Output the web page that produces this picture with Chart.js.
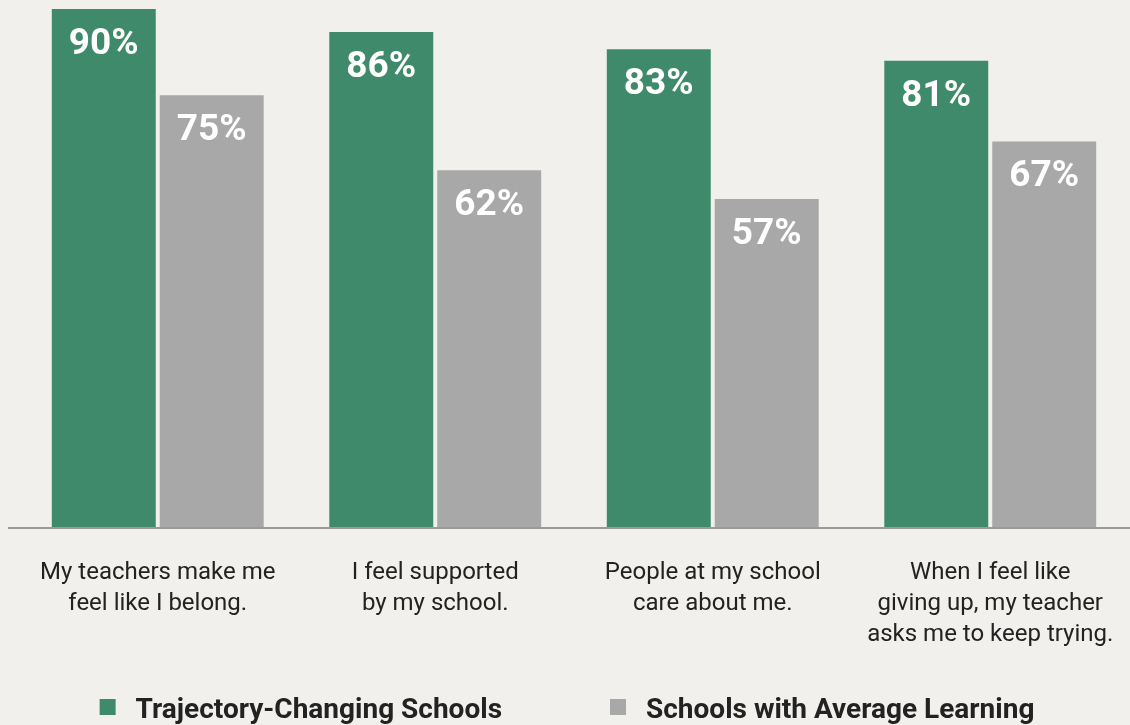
<!DOCTYPE html>
<html>
<head>
<meta charset="utf-8">
<script src="https://cdn.jsdelivr.net/npm/chart.js@4/dist/chart.umd.min.js"></script>
<style>
  html, body { margin:0; padding:0; background:#f1f0ec; overflow:hidden; }
  #wrap { position:relative; width:1130px; height:725px; }
</style>
</head>
<body>
<div id="wrap"><canvas id="chart"></canvas></div>
<script>
// datos
const categorias = [
  ['My teachers make me', 'feel like I belong.'],
  ['I feel supported', 'by my school.'],
  ['People at my school', 'care about me.'],
  ['When I feel like', 'giving up, my teacher', 'asks me to keep trying.']
];
const serieNombres = ['Trajectory-Changing Schools', 'Schools with Average Learning'];
const trayectoria = [90, 86, 83, 81];
const promedio = [75, 62, 57, 67];
const colores = ['#3f8a6b', '#a8a8a8'];

// etiquetas blancas dentro de cada barra, línea base y leyenda
const etiquetasPlugin = {
  id: 'etiquetas',
  afterDatasetsDraw(chart) {
    const {ctx} = chart;
    ctx.save();
    ctx.font = 'bold 37px Roboto';
    ctx.fillStyle = '#ffffff';
    ctx.textAlign = 'center';
    ctx.textBaseline = 'alphabetic';
    chart.data.datasets.forEach((ds, d) => {
      chart.getDatasetMeta(d).data.forEach((bar, i) => {
        ctx.fillText(ds.data[i] + '%', bar.x, bar.y + 45);
      });
    });
    const y0 = chart.scales.y.getPixelForValue(0);
    ctx.strokeStyle = '#9a9a98';
    ctx.lineWidth = 2;
    ctx.beginPath(); ctx.moveTo(8, y0 + 1); ctx.lineTo(chart.width, y0 + 1); ctx.stroke();
    ctx.restore();
  },
  afterDraw(chart) {
    const {ctx} = chart;
    ctx.save();
    ctx.font = 'bold 28px Roboto';
    ctx.textBaseline = 'alphabetic';
    ctx.textAlign = 'left';
    const items = chart.data.datasets.map(ds => ({
      text: ds.label, color: ds.backgroundColor, w: 36 + ctx.measureText(ds.label).width
    }));
    const gap = 108;
    const total = items.reduce((s, it) => s + it.w, 0) + gap * (items.length - 1);
    let x = (chart.width - total) / 2 + 2;
    items.forEach(it => {
      ctx.fillStyle = it.color;
      ctx.fillRect(x, 699, 16, 16);
      ctx.fillStyle = '#222';
      ctx.fillText(it.text, x + 36, 718);
      x += it.w + gap;
    });
    ctx.restore();
  }
};

new Chart(document.getElementById('chart'), {
  type: 'bar',
  data: {
    labels: categorias,
    datasets: [
      { label: serieNombres[0], data: trayectoria, backgroundColor: colores[0] },
      { label: serieNombres[1], data: promedio, backgroundColor: colores[1] }
    ]
  },
  options: {
    responsive: true,
    maintainAspectRatio: false,
    animation: false,
    layout: { padding: { top: 9, left: 19, right: 1, bottom: 75 } },
    datasets: { bar: { categoryPercentage: 0.778, barPercentage: 0.963 } },
    scales: {
      x: {
        grid: { display: false, drawTicks: false },
        border: { display: false },
        ticks: { color: '#222', padding: 30, font: { family: 'Roboto', size: 24, lineHeight: '31px' } },
        afterFit: (scale) => {
          scale.height = 123;
          scale.paddingLeft = 0;
          scale.paddingRight = 0;
        }
      },
      y: { display: false, min: 0, max: 90 }
    },
    plugins: {
      tooltip: { enabled: false },
      legend: { display: false }
    }
  },
  plugins: [etiquetasPlugin]
});
</script>
</body>
</html>
